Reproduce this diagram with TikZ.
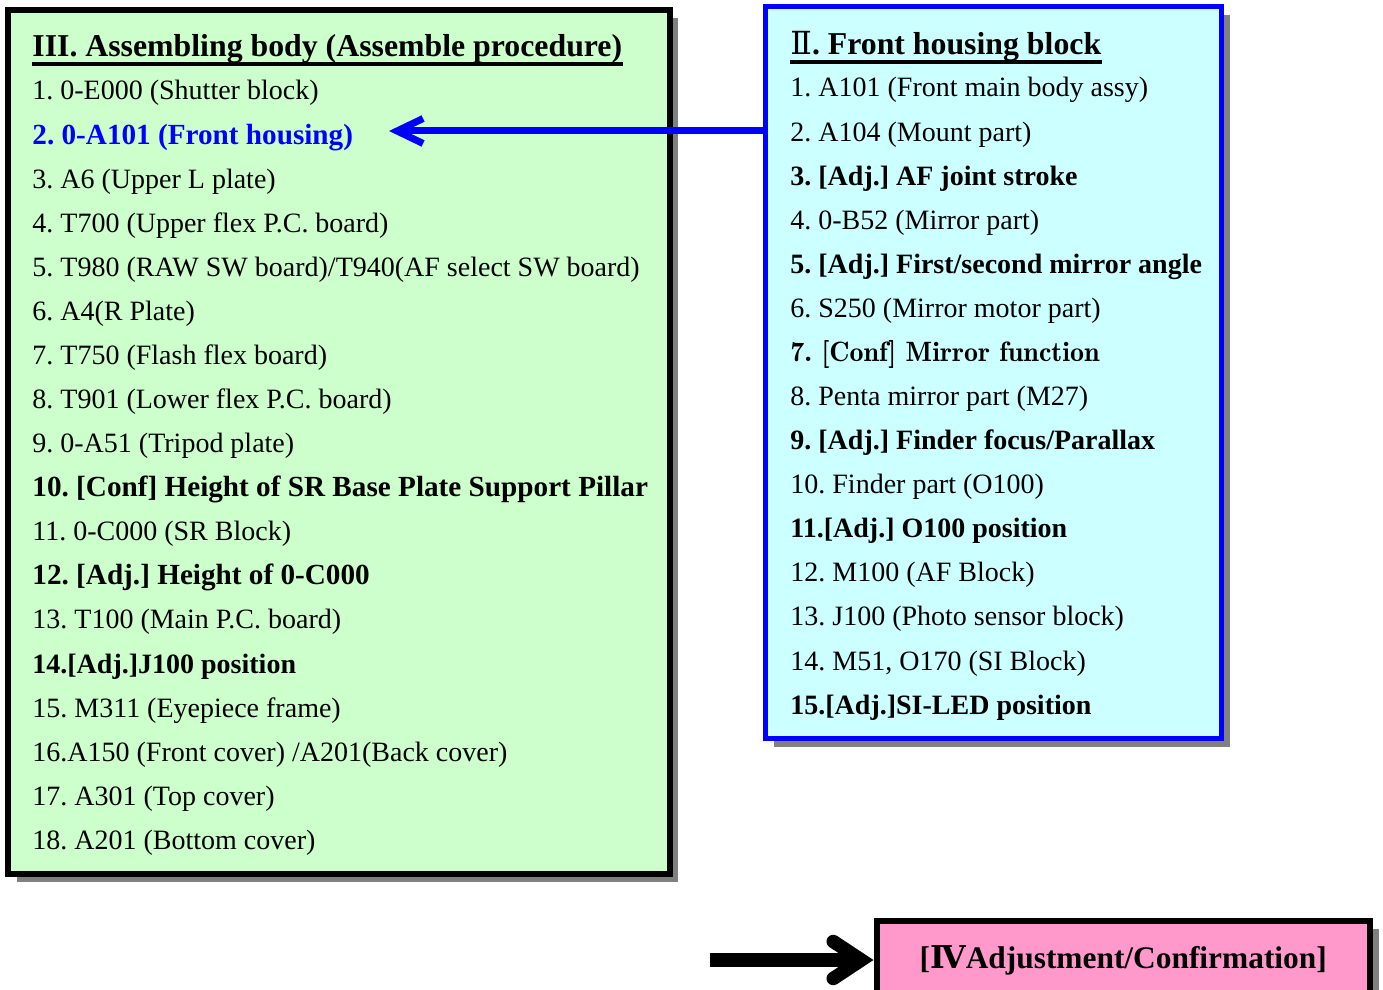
\documentclass[tikz,border=0pt]{standalone}
\usepackage{fontspec}
\setmainfont{Liberation Serif}
\newfontfamily\numfont{DejaVu Serif}
\newfontfamily\conffont{lmromandemi10-regular}[Extension=.otf]
\usetikzlibrary{arrows.meta,shadows}
\frenchspacing

\definecolor{asmgreen}{HTML}{CCFFCC}
\definecolor{frontcyan}{HTML}{CCFFFF}
\definecolor{adjpink}{HTML}{FF99CC}
\definecolor{shadowgray}{HTML}{808080}
\definecolor{linkblue}{HTML}{0000FF}

\tikzset{
  panel/.style={rectangle, inner sep=0pt,
    general shadow={fill=shadowgray, shadow xshift=4.25pt, shadow yshift=-4.25pt}},
  item/.style={anchor=base west, inner sep=0pt, font=\fontsize{14}{16}\selectfont},
  bolditem/.style={item, font=\fontsize{14}{16}\selectfont\bfseries},
  widebold/.style={item, font=\fontsize{14.6}{16}\selectfont\bfseries},
  heading/.style={item, font=\fontsize{15.9}{18}\selectfont\bfseries},
  underline/.style={line width=2pt},
  bluearrow/.style={draw=linkblue, line width=3.5pt, line cap=round, line join=round,
    -{Straight Barb[length=13pt, width=12.5pt]}},
  blackarrow/.style={draw=black, line width=6.75pt, line join=round,
    -{Straight Barb[length=14pt, width=18.5pt, line cap=round]}}
}

\begin{document}
\begin{tikzpicture}[x=0.5pt, y=-0.5pt]
\useasboundingbox (0,0) rectangle (1383,990);

% panels
\node[panel, draw=black, line width=3pt, fill=asmgreen,
  minimum width=330.75pt, minimum height=431.75pt] (asm) at (338.75,441.75) {};
\node[panel, draw=linkblue, line width=2.5pt, fill=frontcyan,
  minimum width=228pt, minimum height=366pt] (front) at (993.5,372.5) {};
\node[panel, draw=black, line width=3pt, fill=adjpink,
  minimum width=246.75pt, minimum height=39.5pt,
  font=\fontsize{15.7}{18}\selectfont\bfseries] (adj) at (1123.25,960)
  {[{\numfont Ⅳ}Adjustment/Confirmation]};

% III. Assembling body
\node[heading] (asmtitle) at (32,57) {III. Assembling body (Assemble procedure)};
\draw[underline] ([yshift=-3.5pt]asmtitle.base west) -- ([yshift=-3.5pt]asmtitle.base east);
\node[item] (asm1) at (32,100) {1. 0-E000 (Shutter block)};
\node[widebold, text=linkblue] (asm2) at (32,144.08) {2. 0-A101 (Front housing)};
\node[item] (asm3) at (32,188.16) {3. A6 (Upper L plate)};
\node[item] (asm4) at (32,232.24) {4. T700 (Upper flex P.C. board)};
\node[item] (asm5) at (32,276.32) {5. T980 (RAW SW board)/T940(AF select SW board)};
\node[item] (asm6) at (32,320.4) {6. A4(R Plate)};
\node[item] (asm7) at (32,364.48) {7. T750 (Flash flex board)};
\node[item] (asm8) at (32,408.56) {8. T901 (Lower flex P.C. board)};
\node[item] (asm9) at (32,452.64) {9. 0-A51 (Tripod plate)};
\node[widebold] (asm10) at (32,496.72) {10. [Conf] Height of SR Base Plate Support Pillar};
\node[item] (asm11) at (32,540.8) {11. 0-C000 (SR Block)};
\node[widebold] (asm12) at (32,584.88) {12. [Adj.] Height of 0-C000};
\node[item] (asm13) at (32,628.96) {13. T100 (Main P.C. board)};
\node[bolditem] (asm14) at (32,673.04) {14.[Adj.]J100 position};
\node[item] (asm15) at (32,717.12) {15. M311 (Eyepiece frame)};
\node[item] (asm16) at (32,761.2) {16.A150 (Front cover) /A201(Back cover)};
\node[item] (asm17) at (32,805.28) {17. A301 (Top cover)};
\node[item] (asm18) at (32,849.36) {18. A201 (Bottom cover)};

% II. Front housing block
\node[heading] (fronttitle) at (790,55) {{\mdseries\numfont Ⅱ}. Front housing block};
\draw[underline] ([yshift=-3.75pt]fronttitle.base west) -- ([yshift=-3.75pt]fronttitle.base east);
\node[item] (front1) at (790,97) {1. A101 (Front main body assy)};
\node[item] (front2) at (790,141.08) {2. A104 (Mount part)};
\node[bolditem] (front3) at (790,185.16) {3. [Adj.] AF joint stroke};
\node[item] (front4) at (790,229.24) {4. 0-B52 (Mirror part)};
\node[bolditem] (front5) at (790,273.32) {5. [Adj.] First/second mirror angle};
\node[item] (front6) at (790,317.4) {6. S250 (Mirror motor part)};
\node[item, font=\fontsize{14}{16}\selectfont\conffont] (front7) at (790,361.48) {7. [Conf] Mirror function};
\node[item] (front8) at (790,405.56) {8. Penta mirror part (M27)};
\node[bolditem] (front9) at (790,449.64) {9. [Adj.] Finder focus/Parallax};
\node[item] (front10) at (790,493.72) {10. Finder part (O100)};
\node[bolditem] (front11) at (790,537.8) {11.[Adj.] O100 position};
\node[item] (front12) at (790,581.88) {12. M100 (AF Block)};
\node[item] (front13) at (790,625.96) {13. J100 (Photo sensor block)};
\node[item] (front14) at (790,670.04) {14. M51, O170 (SI Block)};
\node[bolditem] (front15) at (790,714.12) {15.[Adj.]SI-LED position};

% connectors
\coordinate (asmtip) at (389,131);
\draw[bluearrow] (front.west |- asmtip) -- (asmtip);
\coordinate (adjtail) at (710,960);
\draw[blackarrow] (adjtail) -- (adj.west);
\end{tikzpicture}
\end{document}
